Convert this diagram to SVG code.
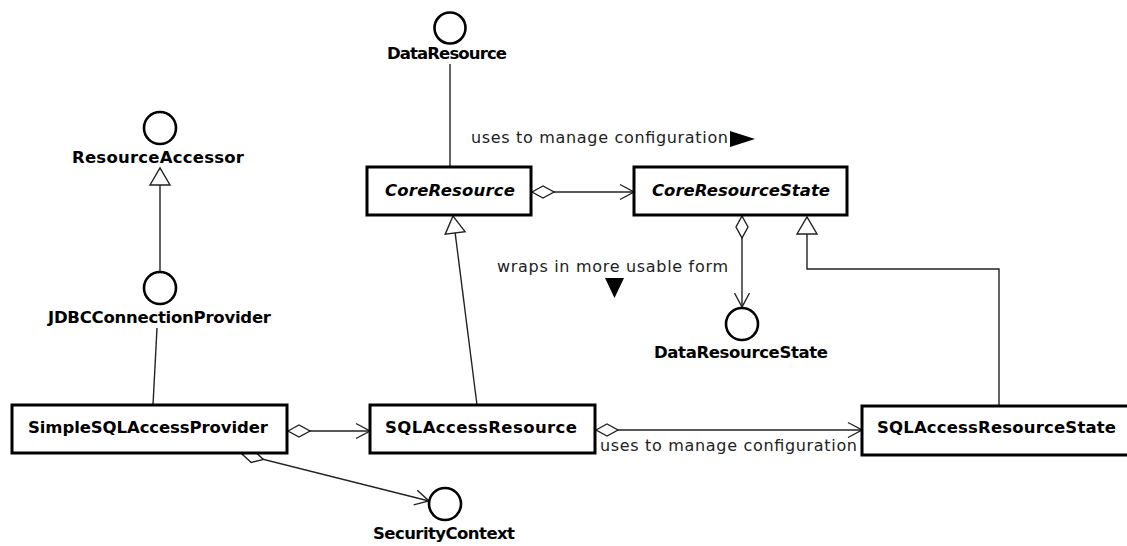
<svg xmlns="http://www.w3.org/2000/svg" width="1127" height="546" viewBox="0 0 1127 546">
  <style>
    .box { fill: #fff; stroke: #000; stroke-width: 3; }
    .iface { fill: #fff; stroke: #000; stroke-width: 2.6; }
    .conn { fill: none; stroke: #222; stroke-width: 1.4; }
    .name { font-family: "DejaVu Sans", "Liberation Sans", sans-serif; font-size: 16.5px; font-weight: bold; fill: #000; }
    .abstract { font-style: italic; }
    .label { font-family: "DejaVu Sans", "Liberation Sans", sans-serif; font-size: 16px; fill: #222; }
    .dir { fill: #000; }
  </style>
  <defs>
    <!-- open aggregation diamond, placed at the start of a connector -->
    <marker id="diamond" viewBox="-2 -8 26 16" markerWidth="26" markerHeight="16" refX="0" refY="0" orient="auto" markerUnits="userSpaceOnUse">
      <path d="M0,0 L11,-6 L22,0 L11,6 Z" fill="#fff" stroke="#222" stroke-width="1.4"/>
    </marker>
    <!-- open navigability arrow -->
    <marker id="arrow" viewBox="-16 -9 18 18" markerWidth="18" markerHeight="18" refX="0" refY="0" orient="auto" markerUnits="userSpaceOnUse">
      <path d="M-14,-7.5 L0,0 L-14,7.5" fill="none" stroke="#222" stroke-width="1.4"/>
    </marker>
    <!-- hollow generalization triangle -->
    <marker id="inherit" viewBox="-20 -12 22 24" markerWidth="22" markerHeight="24" refX="0" refY="0" orient="auto" markerUnits="userSpaceOnUse">
      <path d="M-17,-10 L0,0 L-17,10 Z" fill="#fff" stroke="#222" stroke-width="1.4"/>
    </marker>
  </defs>

  <g id="connectors">
    <line class="conn" x1="450" y1="64" x2="450" y2="167"/>
    <line class="conn" x1="532" y1="192" x2="634" y2="192" marker-start="url(#diamond)" marker-end="url(#arrow)"/>
    <line class="conn" x1="742" y1="216" x2="742" y2="307" marker-start="url(#diamond)" marker-end="url(#arrow)"/>
    <polyline class="conn" points="999,406 999,269 807,269 807,217" marker-end="url(#inherit)"/>
    <line class="conn" x1="477" y1="405" x2="453" y2="216" marker-end="url(#inherit)"/>
    <line class="conn" x1="160" y1="272" x2="160" y2="168" marker-end="url(#inherit)"/>
    <line class="conn" x1="153" y1="405" x2="157" y2="328"/>
    <line class="conn" x1="288" y1="431" x2="370" y2="431" marker-start="url(#diamond)" marker-end="url(#arrow)"/>
    <line class="conn" x1="596" y1="430" x2="862" y2="430" marker-start="url(#diamond)" marker-end="url(#arrow)"/>
    <line class="conn" x1="242" y1="454" x2="429" y2="501" marker-start="url(#diamond)" marker-end="url(#arrow)"/>

    <text class="label" x="471" y="143" textLength="257">uses to manage configuration</text>
    <polygon class="dir" points="730,131 755,139 730,147"/>
    <text class="label" x="497" y="272" textLength="231">wraps in more usable form</text>
    <polygon class="dir" points="605,278 624,278 614.5,298"/>
    <text class="label" x="600" y="451" textLength="257">uses to manage configuration</text>
  </g>

  <g id="ResourceAccessor">
    <circle class="iface" cx="160" cy="128" r="16"/>
    <text class="name" x="72" y="163" textLength="172">ResourceAccessor</text>
  </g>
  <g id="DataResource">
    <circle class="iface" cx="450" cy="28" r="15.5"/>
    <text class="name" x="387" y="59" textLength="120">DataResource</text>
  </g>
  <g id="JDBCConnectionProvider">
    <circle class="iface" cx="160" cy="288" r="16"/>
    <text class="name" x="48" y="323" textLength="223">JDBCConnectionProvider</text>
  </g>
  <g id="DataResourceState">
    <circle class="iface" cx="742" cy="324" r="16"/>
    <text class="name" x="654" y="358" textLength="174">DataResourceState</text>
  </g>
  <g id="SecurityContext">
    <circle class="iface" cx="445" cy="504" r="16"/>
    <text class="name" x="373" y="539" textLength="142">SecurityContext</text>
  </g>
  <g id="CoreResource">
    <rect class="box" x="367" y="167" width="164" height="48"/>
    <text class="name abstract" x="385" y="196" textLength="130">CoreResource</text>
  </g>
  <g id="CoreResourceState">
    <rect class="box" x="634" y="167" width="213" height="48"/>
    <text class="name abstract" x="652" y="196" textLength="178">CoreResourceState</text>
  </g>
  <g id="SimpleSQLAccessProvider">
    <rect class="box" x="12" y="405" width="275" height="48"/>
    <text class="name" x="28" y="433" textLength="240">SimpleSQLAccessProvider</text>
  </g>
  <g id="SQLAccessResource">
    <rect class="box" x="370" y="405" width="225" height="48"/>
    <text class="name" x="385" y="433" textLength="192">SQLAccessResource</text>
  </g>
  <g id="SQLAccessResourceState">
    <rect class="box" x="862" y="406" width="270" height="49"/>
    <text class="name" x="877" y="433" textLength="239">SQLAccessResourceState</text>
  </g>
</svg>
